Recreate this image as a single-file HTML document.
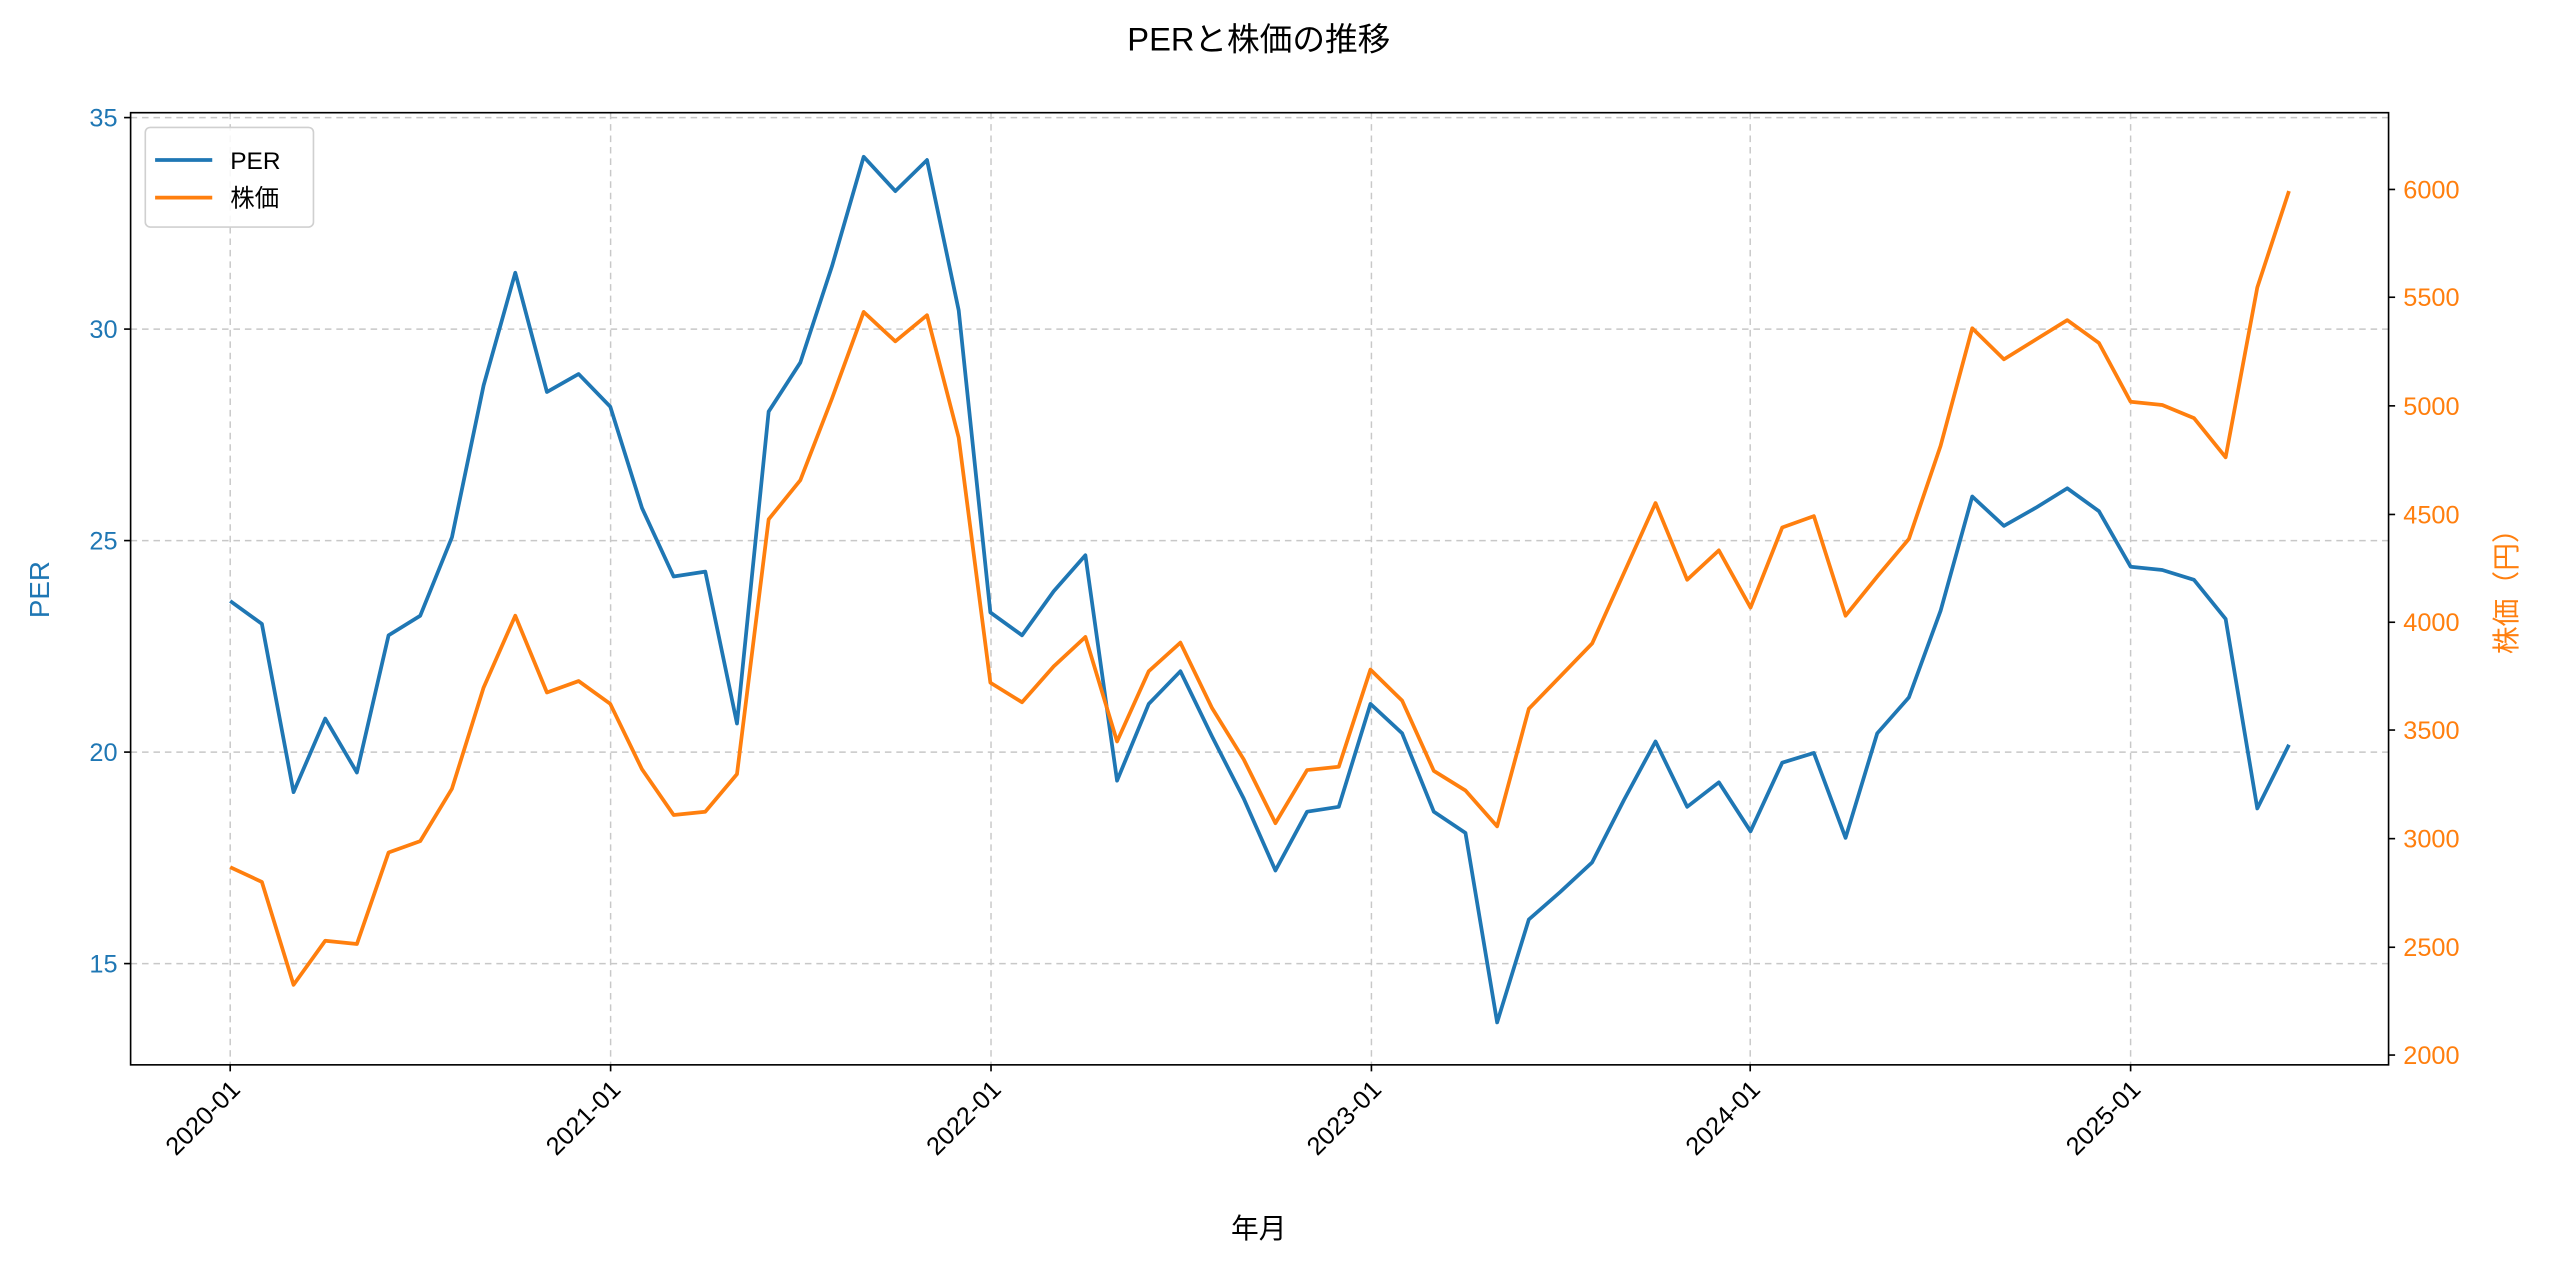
<!DOCTYPE html>
<html><head><meta charset="utf-8"><style>html,body{margin:0;padding:0;background:#fff}svg{display:block}</style></head>
<body>
<svg width="2560" height="1269" viewBox="0 0 1568 777" preserveAspectRatio="none" xmlns="http://www.w3.org/2000/svg" font-family="Liberation Sans, Noto Sans CJK JP, sans-serif">
<rect width="1568" height="777" fill="#fff"/>
<g stroke="#c8c8c8" stroke-width="0.9" stroke-dasharray="4,3">
<line x1="80" x2="1463" y1="72" y2="72"/><line x1="80" x2="1463" y1="201.5" y2="201.5"/><line x1="80" x2="1463" y1="331" y2="331"/><line x1="80" x2="1463" y1="460.5" y2="460.5"/><line x1="80" x2="1463" y1="590" y2="590"/>
<line x1="141" x2="141" y1="69" y2="652"/><line x1="374" x2="374" y1="69" y2="652"/><line x1="607" x2="607" y1="69" y2="652"/><line x1="840" x2="840" y1="69" y2="652"/><line x1="1072" x2="1072" y1="69" y2="652"/><line x1="1305" x2="1305" y1="69" y2="652"/>
</g>
<polyline fill="none" stroke="#1f77b4" stroke-width="2.3" stroke-linejoin="round" points="141,368 160.4,382 179.8,485 199.2,440 218.6,473 238,389 257.4,377 276.8,329 296.2,236 315.6,167 335,240 354.4,229 373.8,249 393.2,311 412.6,353 432,350 451.4,443 470.8,252 490.2,222 509.6,163 529,96 548.4,117 567.8,98 587.2,190 606.6,375 626,389 645.4,362 664.8,340 684.2,478 703.6,431 723,411 742.4,451 761.8,489 781.2,533 800.6,497 820,494 839.4,431 858.8,449 878.2,497 897.6,510 917,626 936.4,563 955.8,546 975.2,528 994.6,490 1014,454 1033.4,494 1052.8,479 1072.2,509 1091.6,467 1111,461 1130.4,513 1149.8,449 1169.2,427 1188.6,374 1208,304 1227.4,322 1246.8,311 1266.2,299 1285.6,313 1305,347 1324.4,349 1343.8,355 1363.2,379 1382.6,495 1402,456"/>
<polyline fill="none" stroke="#ff7f0e" stroke-width="2.3" stroke-linejoin="round" points="141,531 160.4,540 179.8,603 199.2,576 218.6,578 238,522 257.4,515 276.8,483 296.2,421 315.6,377 335,424 354.4,417 373.8,431 393.2,471 412.6,499 432,497 451.4,474 470.8,318 490.2,294 509.6,244 529,191 548.4,209 567.8,193 587.2,268 606.6,418 626,430 645.4,408 664.8,390 684.2,454 703.6,411 723,393.5 742.4,433.6 761.8,465 781.2,504 800.6,471.5 820,469.5 839.4,410 858.8,429 878.2,472 897.6,484 917,506 936.4,434 955.8,414 975.2,394 994.6,351 1014,308 1033.4,355 1052.8,337 1072.2,372 1091.6,323 1111,316 1130.4,377 1149.8,353 1169.2,330 1188.6,273 1208,201 1227.4,220 1246.8,208 1266.2,196 1285.6,210 1305,246 1324.4,248 1343.8,256 1363.2,280 1382.6,176 1402,117"/>
<rect x="80" y="69" width="1383" height="583" fill="none" stroke="#000" stroke-width="1"/>
<g stroke="#000" stroke-width="1">
<line x1="76" x2="80" y1="72" y2="72"/><line x1="76" x2="80" y1="201.5" y2="201.5"/><line x1="76" x2="80" y1="331" y2="331"/><line x1="76" x2="80" y1="460.5" y2="460.5"/><line x1="76" x2="80" y1="590" y2="590"/>
<line x1="1463" x2="1467" y1="116" y2="116"/><line x1="1463" x2="1467" y1="182" y2="182"/><line x1="1463" x2="1467" y1="248.5" y2="248.5"/><line x1="1463" x2="1467" y1="315" y2="315"/><line x1="1463" x2="1467" y1="381" y2="381"/><line x1="1463" x2="1467" y1="447" y2="447"/><line x1="1463" x2="1467" y1="513.5" y2="513.5"/><line x1="1463" x2="1467" y1="580" y2="580"/><line x1="1463" x2="1467" y1="646" y2="646"/>
<line x1="141" x2="141" y1="652" y2="656"/><line x1="374" x2="374" y1="652" y2="656"/><line x1="607" x2="607" y1="652" y2="656"/><line x1="840" x2="840" y1="652" y2="656"/><line x1="1072" x2="1072" y1="652" y2="656"/><line x1="1305" x2="1305" y1="652" y2="656"/>
</g>
<g fill="#1f77b4" font-size="15.5" text-anchor="end">
<text x="72" y="77.5">35</text><text x="72" y="207">30</text><text x="72" y="336.5">25</text><text x="72" y="466">20</text><text x="72" y="595.5">15</text>
</g>
<g fill="#ff7f0e" font-size="15.5">
<text x="1472" y="121.5">6000</text><text x="1472" y="187.5">5500</text><text x="1472" y="254">5000</text><text x="1472" y="320.5">4500</text><text x="1472" y="386.5">4000</text><text x="1472" y="452.5">3500</text><text x="1472" y="519">3000</text><text x="1472" y="585.5">2500</text><text x="1472" y="651.5">2000</text>
</g>
<g fill="#000" font-size="15.5" text-anchor="end">
<text transform="translate(148,668) rotate(-45)">2020-01</text>
<text transform="translate(381,668) rotate(-45)">2021-01</text>
<text transform="translate(614,668) rotate(-45)">2022-01</text>
<text transform="translate(847,668) rotate(-45)">2023-01</text>
<text transform="translate(1079,668) rotate(-45)">2024-01</text>
<text transform="translate(1312,668) rotate(-45)">2025-01</text>
</g>
<text x="771" y="31" font-size="20" text-anchor="middle" fill="#000">PERと株価の推移</text>
<text x="771" y="758" font-size="17" text-anchor="middle" fill="#000">年月</text>
<text transform="translate(30,361) rotate(-90)" font-size="17" text-anchor="middle" fill="#1f77b4">PER</text>
<text transform="translate(1541,358) rotate(-90)" font-size="17" text-anchor="middle" fill="#ff7f0e">株価（円）</text>
<rect x="89" y="78" width="103" height="61" rx="3" fill="#fff" fill-opacity="0.85" stroke="#d0d0d0" stroke-width="1"/>
<line x1="95" x2="130" y1="98" y2="98" stroke="#1f77b4" stroke-width="2.3"/>
<line x1="95" x2="130" y1="121" y2="121" stroke="#ff7f0e" stroke-width="2.3"/>
<text x="141" y="103.5" font-size="15" fill="#000">PER</text>
<text x="141" y="126.5" font-size="15" fill="#000">株価</text>
</svg>
</body></html>
